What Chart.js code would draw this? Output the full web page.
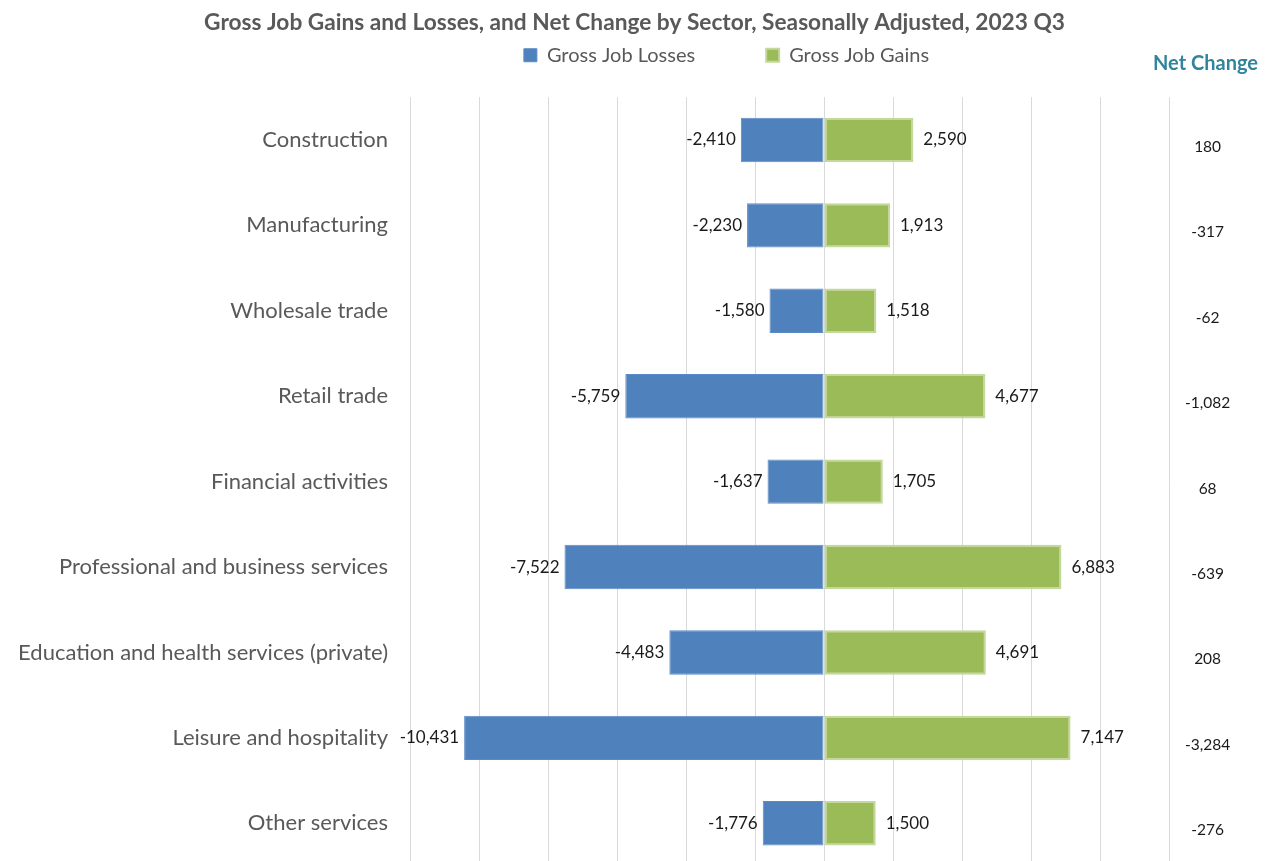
<!DOCTYPE html>
<html>
<head>
<meta charset="utf-8">
<script src="https://cdn.jsdelivr.net/npm/chart.js@4"></script>
<style>
  html, body { margin: 0; padding: 0; background: #fff; overflow: hidden; }
</style>
</head>
<body>
<canvas id="chart" width="1269" height="866"></canvas>
<script>
let sectors = ['Construction', 'Manufacturing', 'Wholesale trade', 'Retail trade', 'Financial activities',
    'Professional and business services', 'Education and health services (private)', 'Leisure and hospitality', 'Other services']
let losses = [-2410, -2230, -1580, -5759, -1637, -7522, -4483, -10431, -1776]
let gains = [2590, 1913, 1518, 4677, 1705, 6883, 4691, 7147, 1500]
let netChange = [180, -317, -62, -1082, 68, -639, 208, -3284, -276]

const FONT = 'Lato, "Noto Sans", sans-serif'
const GREY = '#595959'

function fmt(v) {
    return v.toLocaleString('en-US')
}

// numbers at the end of each bar
const barLabels = {
    id: 'barLabels',
    afterDatasetsDraw(chart) {
        const ctx = chart.ctx
        ctx.save()
        ctx.font = '17px ' + FONT
        ctx.fillStyle = '#1a1a1a'
        ctx.textBaseline = 'middle'
        chart.data.datasets.forEach((ds, i) => {
            const meta = chart.getDatasetMeta(i)
            meta.data.forEach((bar, j) => {
                const v = ds.data[j]
                if (v < 0) {
                    ctx.textAlign = 'right'
                    ctx.fillText(fmt(v), bar.x - 5, bar.y)
                } else {
                    ctx.textAlign = 'left'
                    ctx.fillText(fmt(v), bar.x + 10, bar.y)
                }
            })
        })
        ctx.restore()
    }
}

// header over the net change column
const netHeader = {
    id: 'netHeader',
    afterDraw(chart) {
        const ctx = chart.ctx
        ctx.save()
        ctx.font = 'bold 20px ' + FONT
        ctx.fillStyle = '#31849B'
        ctx.textAlign = 'right'
        ctx.textBaseline = 'middle'
        ctx.fillText('Net Change', chart.width - 11, 64)
        ctx.restore()
    }
}

// legend sits right of the page centre and tight under the title in the original
const legendShift = {
    id: 'legendShift',
    afterLayout(chart) {
        chart.legend.left += 92
        chart.legend.right += 92
        chart.legend.top -= 62
    }
}

// vertical axes: no extra room above/below the plot for their labels
function noVerticalPadding(scale) {
    scale.paddingTop = 0
    scale.paddingBottom = 0
}

const ctx = document.getElementById('chart').getContext('2d')
const chart = new Chart(ctx, {
    type: 'bar',
    data: {
        labels: sectors,
        datasets: [
            {
                label: 'Gross Job Losses',
                data: losses,
                backgroundColor: '#4F81BD',
                borderColor: '#5B8BC6',
                borderWidth: 1,
                borderSkipped: false
            },
            {
                label: 'Gross Job Gains',
                data: gains,
                backgroundColor: '#9BBB59',
                borderColor: '#C3D99B',
                borderWidth: 2,
                borderSkipped: false
            }
        ]
    },
    options: {
        indexAxis: 'y',
        responsive: false,
        animation: false,
        layout: {
            padding: 0
        },
        datasets: {
            bar: {
                barPercentage: 0.52,
                categoryPercentage: 1
            }
        },
        scales: {
            x: {
                stacked: true,
                min: -12000,
                max: 10000,
                afterFit(scale) { scale.height = 0 },
                ticks: { display: false, stepSize: 2000 },
                grid: { color: '#D9D9D9', lineWidth: 1, drawTicks: false },
                border: { display: false }
            },
            y: {
                stacked: true,
                afterFit(scale) {
                    scale.width = 410
                    noVerticalPadding(scale)
                },
                ticks: {
                    color: GREY,
                    font: { family: FONT, size: 22 },
                    padding: 22
                },
                grid: { display: false, drawTicks: false },
                border: { display: false }
            },
            // net change column drawn as a right-hand category axis
            y2: {
                type: 'category',
                position: 'right',
                labels: netChange.map(fmt),
                offset: true,
                afterFit(scale) {
                    scale.width = 100
                    noVerticalPadding(scale)
                },
                ticks: {
                    color: '#1a1a1a',
                    font: { family: FONT, size: 15.5 },
                    crossAlign: 'center',
                    padding: 16,
                    labelOffset: 7
                },
                grid: { display: false, drawTicks: false },
                border: { display: false }
            }
        },
        plugins: {
            title: {
                display: true,
                text: 'Gross Job Gains and Losses, and Net Change by Sector, Seasonally Adjusted, 2023 Q3',
                color: GREY,
                font: { family: FONT, size: 22.7, weight: 'bold' },
                padding: { top: 9, bottom: 0 }
            },
            legend: {
                position: 'top',
                maxHeight: 61,
                labels: {
                    color: GREY,
                    font: { family: FONT, size: 20 },
                    boxWidth: 13,
                    boxHeight: 13,
                    padding: 71
                }
            },
            tooltip: { enabled: false }
        }
    },
    plugins: [barLabels, netHeader, legendShift]
})
</script>
</body>
</html>
